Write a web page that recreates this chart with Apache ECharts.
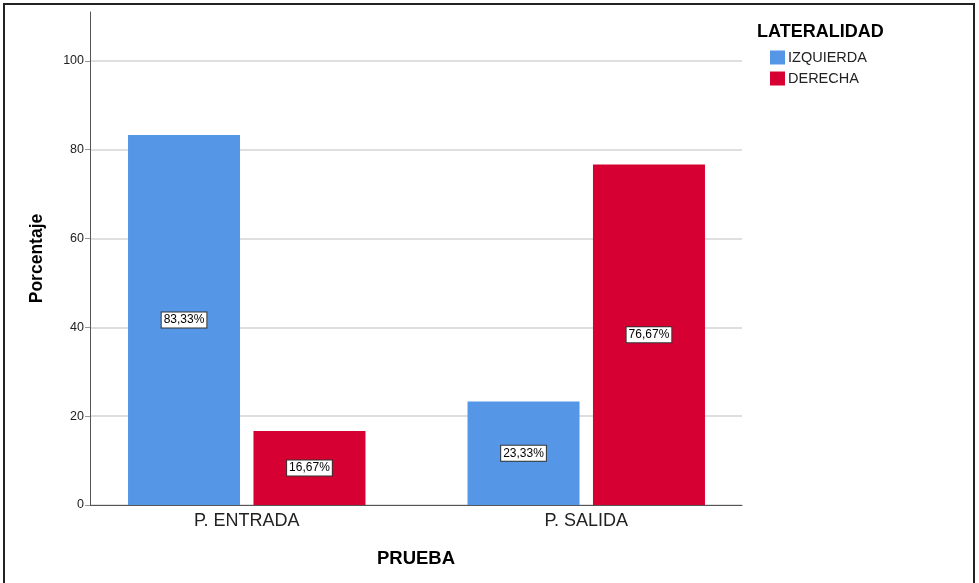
<!DOCTYPE html>
<html>
<head>
<meta charset="utf-8">
<script src="https://cdn.jsdelivr.net/npm/echarts@6/dist/echarts.min.js"></script>
<style>
  html, body { margin: 0; padding: 0; background: #fff; }
  #frame { position: absolute; left: 3px; top: 3px; width: 972px; height: 600px; border: 2px solid #222; box-sizing: border-box; }
  #chart { position: absolute; left: 0; top: 0; width: 979px; height: 583px; }
</style>
</head>
<body>
<div id="frame"></div>
<div id="chart"></div>
<script>
const categories = ['P. ENTRADA', 'P. SALIDA']
const izquierda = [83.33, 23.33]
const derecha = [16.67, 76.67]
const yTicks = [0, 20, 40, 60, 80, 100]

const font = '"Liberation Sans", Arial, sans-serif'

const chart = echarts.init(document.getElementById('chart'))

const labelOpt = {
  show: true,
  position: 'inside',
  formatter: p => p.value.toFixed(2).replace('.', ',') + '%',
  backgroundColor: '#fff',
  borderColor: '#333',
  borderWidth: 1,
  padding: [2, 2, 1, 2],
  color: '#000',
  fontSize: 12,
  fontFamily: font
}

chart.setOption({
  animation: false,
  textStyle: { fontFamily: font },
  title: {
    text: 'LATERALIDAD',
    left: 752,
    top: 18,
    textStyle: { fontSize: 18, fontWeight: 'bold', color: '#000', fontFamily: font }
  },
  legend: {
    orient: 'vertical',
    left: 765,
    top: 45,
    icon: 'rect',
    itemWidth: 15,
    itemHeight: 14,
    itemGap: 6,
    textStyle: { fontSize: 14.5, lineHeight: 14, color: '#222', fontFamily: font, padding: [0, 0, 0, -2] },
    data: ['IZQUIERDA', 'DERECHA']
  },
  grid: [
    { left: 90, top: 12, width: 652, height: 493 },   // axes + grid lines
    { left: 77, top: 12, width: 679, height: 493 }    // bars
  ],
  xAxis: [
    {
      type: 'category',
      gridIndex: 0,
      data: categories,
      axisLine: { lineStyle: { color: '#555', width: 1 } },
      axisTick: { show: false },
      axisLabel: { show: false },
      name: 'PRUEBA',
      nameLocation: 'middle',
      nameGap: 44,
      nameTextStyle: { fontSize: 18.5, fontWeight: 'bold', color: '#000', fontFamily: font }
    },
    {
      type: 'category',
      gridIndex: 1,
      data: categories,
      axisLine: { show: false },
      axisTick: { show: false },
      axisLabel: { fontSize: 18, color: '#222', margin: 7, fontFamily: font }
    }
  ],
  yAxis: [
    {
      type: 'value',
      gridIndex: 0,
      min: 0,
      max: 111,
      interval: 20,
      axisLine: { show: true, lineStyle: { color: '#555', width: 1 } },
      axisTick: { show: true, length: 5, customValues: yTicks, lineStyle: { color: '#999' } },
      axisLabel: { customValues: yTicks, fontSize: 12.5, color: '#222', margin: 6, fontFamily: font },
      splitLine: { show: true, lineStyle: { color: '#d4d4d4', width: 1.5 } },
      name: 'Porcentaje',
      nameLocation: 'middle',
      nameGap: 44,
      nameTextStyle: { fontSize: 17.5, fontWeight: 'bold', color: '#000', fontFamily: font }
    },
    {
      type: 'value',
      gridIndex: 1,
      min: 0,
      max: 111,
      show: false
    }
  ],
  series: [
    {
      name: 'IZQUIERDA',
      type: 'bar',
      xAxisIndex: 1,
      yAxisIndex: 1,
      barWidth: 112,
      barGap: '12%',
      itemStyle: { color: '#5596e6' },
      label: labelOpt,
      data: izquierda
    },
    {
      name: 'DERECHA',
      type: 'bar',
      xAxisIndex: 1,
      yAxisIndex: 1,
      barWidth: 112,
      barGap: '12%',
      itemStyle: { color: '#d60032' },
      label: labelOpt,
      data: derecha
    }
  ]
})
</script>
</body>
</html>
